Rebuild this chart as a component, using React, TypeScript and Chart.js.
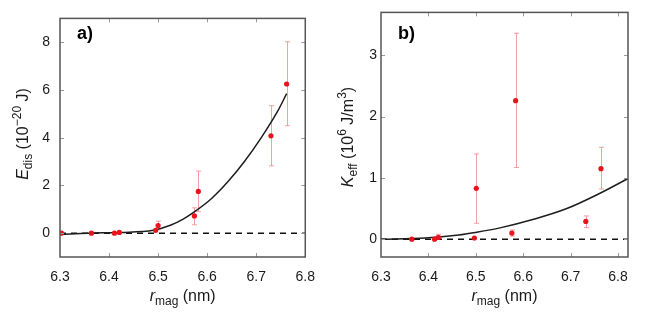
import React, { useEffect, useRef } from "react";
import Chart from "chart.js/auto";

// ---------- data ----------
const xTicks = [6.3, 6.4, 6.5, 6.6, 6.7, 6.8];
const yTicksA = [0, 2, 4, 6, 8];
const yTicksB = [0, 1, 2, 3];

// panel a: E_dis
const rA = [6.303, 6.364, 6.411, 6.421, 6.495, 6.5, 6.574, 6.582, 6.73, 6.762];
const eA = [0, 0, 0, 0.03, 0.12, 0.32, 0.72, 1.75, 4.08, 6.25];
const eHighA = [null, null, null, null, null, 0.5, 1.06, 2.6, 5.34, 8.02];
const eLowA = [null, null, null, null, null, 0.14, 0.35, 0.9, 2.82, 4.5];
const fitRA = [6.303, 6.357, 6.424, 6.49, 6.525, 6.552, 6.576, 6.609, 6.643, 6.676, 6.71, 6.744, 6.762];
const fitEA = [-0.05, 0, 0.03, 0.12, 0.33, 0.6, 0.92, 1.45, 2.17, 3.0, 3.99, 5.12, 5.85];

// panel b: K_eff
const rB = [6.365, 6.413, 6.421, 6.497, 6.501, 6.576, 6.584, 6.732, 6.764];
const kB = [0, 0, 0.03, 0.02, 0.83, 0.1, 2.26, 0.29, 1.15];
const kHighB = [null, null, 0.08, null, 1.39, 0.15, 3.36, 0.38, 1.5];
const kLowB = [null, null, 0.0, null, 0.26, 0.05, 1.17, 0.19, 0.82];
const fitRB = [6.3, 6.393, 6.464, 6.499, 6.551, 6.622, 6.692, 6.762, 6.821];
const fitKB = [0, 0.018, 0.068, 0.11, 0.185, 0.325, 0.5, 0.75, 0.99];

const FONT = "'Liberation Sans', Arial, Helvetica, sans-serif";

type Part = { t: string; size: number; italic?: boolean; dy?: number };

function drawRich(ctx: CanvasRenderingContext2D, parts: Part[], x: number, y: number, rot: number) {
  ctx.save();
  ctx.translate(x, y);
  ctx.rotate(rot);
  ctx.fillStyle = "#1a1a1a";
  ctx.textBaseline = "alphabetic";
  ctx.textAlign = "left";
  const fonts = parts.map((p) => `${p.italic ? "italic " : ""}${p.size}px ${FONT}`);
  let total = 0;
  const widths = parts.map((p, i) => {
    ctx.font = fonts[i];
    const w = ctx.measureText(p.t).width;
    total += w;
    return w;
  });
  let cx = -total / 2;
  parts.forEach((p, i) => {
    ctx.font = fonts[i];
    ctx.fillText(p.t, cx, p.dy || 0);
    cx += widths[i];
  });
  ctx.restore();
}

type PanelCfg = {
  letter: string;
  xs: number[];
  ys: number[];
  hi: (number | null)[];
  lo: (number | null)[];
  fitX: number[];
  fitY: number[];
  xMax: number;
  yMin: number;
  yMax: number;
  yTicks: number[];
  yWidth: number;
  yPad: number;
  padRight: number;
  padTop: number;
  yTitle: Part[];
  yTitleX: number;
  yTitleY: number;
};

const xTitle: Part[] = [
  { t: "r", size: 16, italic: true },
  { t: "mag", size: 12, dy: 4 },
  { t: " (nm)", size: 16 },
];

function Panel({ cfg }: { cfg: PanelCfg }) {
  const ref = useRef<HTMLCanvasElement | null>(null);
  useEffect(() => {
    const canvas = ref.current!;
    const plugin = {
      id: "deco",
      beforeDatasetsDraw(chart: any) {
        const ctx = chart.ctx as CanvasRenderingContext2D;
        const xs = chart.scales.x;
        const ys = chart.scales.y;
        ctx.save();
        ctx.strokeStyle = "rgba(240,130,130,0.75)";
        ctx.lineWidth = 1;
        cfg.xs.forEach((xv, i) => {
          const h = cfg.hi[i];
          const l = cfg.lo[i];
          if (h == null || l == null) return;
          const px = Math.round(xs.getPixelForValue(xv)) + 0.5;
          const pt = ys.getPixelForValue(h);
          const pb = ys.getPixelForValue(l);
          ctx.beginPath();
          ctx.moveTo(px, pt);
          ctx.lineTo(px, pb);
          ctx.moveTo(px - 2.5, pt);
          ctx.lineTo(px + 2.5, pt);
          ctx.moveTo(px - 2.5, pb);
          ctx.lineTo(px + 2.5, pb);
          ctx.stroke();
        });
        ctx.restore();
      },
      afterDatasetsDraw(chart: any) {
        const ctx = chart.ctx as CanvasRenderingContext2D;
        const a = chart.chartArea;
        const xs = chart.scales.x;
        const ys = chart.scales.y;
        ctx.save();
        ctx.strokeStyle = "#9a9a9a";
        ctx.lineWidth = 1;
        const tl = 4;
        ctx.beginPath();
        xTicks.forEach((v) => {
          const px = Math.round(xs.getPixelForValue(v)) + 0.5;
          if (px < a.left + 1 || px > a.right - 1) return;
          ctx.moveTo(px, a.top);
          ctx.lineTo(px, a.top + tl);
          ctx.moveTo(px, a.bottom);
          ctx.lineTo(px, a.bottom - tl);
        });
        cfg.yTicks.forEach((v) => {
          const py = Math.round(ys.getPixelForValue(v)) + 0.5;
          ctx.moveTo(a.left, py);
          ctx.lineTo(a.left + tl, py);
          ctx.moveTo(a.right, py);
          ctx.lineTo(a.right - tl, py);
        });
        ctx.stroke();
        ctx.strokeStyle = "#555";
        ctx.lineWidth = 1.5;
        ctx.strokeRect(a.left, a.top, a.right - a.left, a.bottom - a.top);
        ctx.restore();
      },
      afterDraw(chart: any) {
        const ctx = chart.ctx as CanvasRenderingContext2D;
        const a = chart.chartArea;
        ctx.save();
        ctx.fillStyle = "#000";
        ctx.font = `bold 18px ${FONT}`;
        ctx.textBaseline = "alphabetic";
        ctx.textAlign = "left";
        ctx.fillText(cfg.letter, a.left + 17, 39);
        ctx.restore();
        drawRich(ctx, xTitle, (a.left + a.right) / 2, 301, 0);
        drawRich(ctx, cfg.yTitle, cfg.yTitleX, cfg.yTitleY, -Math.PI / 2);
      },
    };

    const chart = new Chart(canvas, {
      type: "scatter",
      data: {
        datasets: [
          {
            label: "data",
            data: cfg.xs.map((x, i) => ({ x, y: cfg.ys[i] })),
            backgroundColor: "#e8141c",
            borderColor: "#e8141c",
            pointRadius: 2.6,
            borderWidth: 0,
            order: 0,
          },
          {
            label: "fit",
            data: cfg.fitX.map((x, i) => ({ x, y: cfg.fitY[i] })),
            showLine: true,
            borderColor: "#1e1e1e",
            borderWidth: 1.5,
            pointRadius: 0,
            tension: 0.4,
            cubicInterpolationMode: "monotone",
            order: 1,
          },
          {
            label: "zero",
            data: [
              { x: 6.3, y: 0 },
              { x: cfg.xMax, y: 0 },
            ],
            showLine: true,
            borderColor: "#111",
            borderWidth: 1.5,
            borderDash: [6, 5],
            pointRadius: 0,
            order: 2,
          },
        ] as any,
      },
      options: {
        animation: false,
        responsive: false,
        devicePixelRatio: 1,
        layout: { padding: { left: 0, right: cfg.padRight, top: cfg.padTop, bottom: 0 } },
        plugins: { legend: { display: false }, tooltip: { enabled: false } },
        scales: {
          x: {
            type: "linear",
            min: 6.3,
            max: cfg.xMax,
            grid: { display: false, drawTicks: false },
            border: { display: false },
            afterBuildTicks: (s: any) => {
              s.ticks = xTicks.map((v) => ({ value: v }));
            },
            afterFit: (s: any) => {
              s.height = 57;
            },
            ticks: {
              padding: 12,
              color: "#1a1a1a",
              font: { family: FONT, size: 14 },
              maxRotation: 0,
              autoSkip: false,
              callback: (v: any) => Number(v).toFixed(1),
            },
          },
          y: {
            type: "linear",
            min: cfg.yMin,
            max: cfg.yMax,
            grid: { display: false, drawTicks: false },
            border: { display: false },
            afterBuildTicks: (s: any) => {
              s.ticks = cfg.yTicks.map((v) => ({ value: v }));
            },
            afterFit: (s: any) => {
              s.width = cfg.yWidth;
            },
            ticks: {
              padding: cfg.yPad,
              color: "#1a1a1a",
              font: { family: FONT, size: 14 },
              autoSkip: false,
              callback: (v: any) => String(v),
            },
          },
        },
      } as any,
      plugins: [plugin],
    });
    return () => chart.destroy();
  }, [cfg]);
  return <canvas ref={ref} width={327} height={314} style={{ display: "block", width: 327, height: 314 }} />;
}

const cfgA: PanelCfg = {
  letter: "a)",
  xs: rA,
  ys: eA,
  hi: eHighA,
  lo: eLowA,
  fitX: fitRA,
  fitY: fitEA,
  xMax: 6.8,
  yMin: -1,
  yMax: 9,
  yTicks: yTicksA,
  yWidth: 60,
  yPad: 10,
  padRight: 19,
  padTop: 10,
  yTitle: [
    { t: "E", size: 16, italic: true },
    { t: "dis", size: 12, dy: 4 },
    { t: " (10", size: 16 },
    { t: "\u221220", size: 12, dy: -7 },
    { t: " J)", size: 16 },
  ],
  yTitleX: 28,
  yTitleY: 134,
};

const cfgB: PanelCfg = {
  letter: "b)",
  xs: rB,
  ys: kB,
  hi: kHighB,
  lo: kLowB,
  fitX: fitRB,
  fitY: fitKB,
  xMax: 6.821,
  yMin: -0.29,
  yMax: 3.7,
  yTicks: yTicksB,
  yWidth: 54,
  yPad: 4,
  padRight: 26,
  padTop: 11,
  yTitle: [
    { t: "K", size: 16, italic: true },
    { t: "eff", size: 12, dy: 4 },
    { t: " (10", size: 16 },
    { t: "6", size: 12, dy: -7 },
    { t: " J/m", size: 16 },
    { t: "3", size: 12, dy: -7 },
    { t: ")", size: 16 },
  ],
  yTitleX: 26,
  yTitleY: 137,
};

export default function App() {
  return (
    <div style={{ position: "fixed", left: 0, top: 0, width: 654, height: 314, background: "#fff", display: "flex" }}>
      <Panel cfg={cfgA} />
      <Panel cfg={cfgB} />
    </div>
  );
}
